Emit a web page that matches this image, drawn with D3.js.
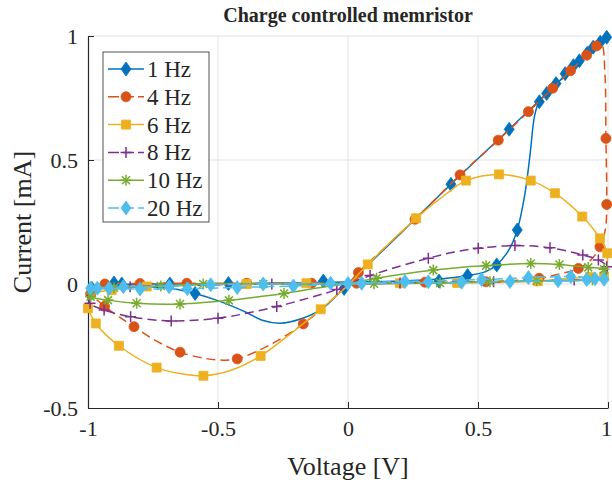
<!DOCTYPE html>
<html>
<head>
<meta charset="utf-8">
<script src="https://cdn.jsdelivr.net/npm/d3@7"></script>
<style>
body { margin: 0; background: #fff; }
svg { display: block; }
text { font-family: "Liberation Serif", "Times New Roman", serif; fill: #262626; }
</style>
</head>
<body>
<script>
// values, [voltage (V), current (mA)]
var names = ["1 Hz", "4 Hz", "6 Hz", "8 Hz", "10 Hz", "20 Hz"]
var xTicks = [-1, -0.5, 0, 0.5, 1]
var yTicks = [-0.5, 0, 0.5, 1]

var hz1Line = [[-1,-0.02],[-0.95,-0.01],[-0.88,-0.003],[-0.75,0],[-0.6,0],[-0.4,0.002],[-0.2,0.005],[0,0.008],[0.2,0.012],[0.35,0.02],[0.46,0.034],[0.53,0.05],[0.572,0.077],[0.62,0.14],[0.651,0.218],[0.68,0.36],[0.70,0.52],[0.718,0.68],[0.736,0.735],[0.8,0.805],[0.9,0.91],[0.96,0.967],[1,1],
  [0.96,0.962],[0.85,0.855],[0.62,0.624],[0.396,0.402],[0.2,0.202],[0,0],[-0.1,-0.1],[-0.18,-0.14],[-0.26,-0.158],[-0.33,-0.146],[-0.39,-0.115],[-0.49,-0.071],[-0.588,-0.038],[-0.68,-0.018],[-0.8,-0.01],[-0.92,-0.012],[-1,-0.02]]
var hz1Marks = [[-0.985,-0.018],[-0.9,0.004],[-0.87,0],[-0.685,0],[-0.46,0.002],[-0.095,0.012],[0.35,0.012],[0.46,0.034],[0.572,0.077],[0.651,0.218],[0.736,0.735],[0.764,0.768],[0.80,0.808],[0.835,0.848],[0.867,0.88],[0.89,0.9],[0.92,0.93],[0.943,0.955],[0.97,0.975],[0.995,0.995],[0.62,0.624],[0.396,0.402],[-0.015,-0.018],[-0.588,-0.038]]

var hz4Line = [[-1,-0.02],[-0.99,-0.04],[-0.936,-0.09],[-0.88,-0.133],[-0.823,-0.172],[-0.74,-0.228],[-0.646,-0.275],[-0.55,-0.3],[-0.48,-0.307],[-0.426,-0.302],[-0.3,-0.245],[-0.172,-0.161],[-0.08,-0.08],[0,0],[0.04,0.046],[0.258,0.261],[0.431,0.44],[0.578,0.58],[0.694,0.695],[0.787,0.789],[0.856,0.86],[0.918,0.923],[0.956,0.96],[0.975,0.965],[0.988,0.85],[0.992,0.587],[0.995,0.321],[0.99,0.22],[0.969,0.15],[0.935,0.098],[0.886,0.063],[0.8,0.037],[0.735,0.023],[0.53,0.009],[0.296,0.007],[0.033,0.003],[-0.14,0.003],[-0.39,0.003],[-0.62,0.003],[-0.8,0.002],[-0.935,0],[-1,-0.02]]
var hz4Marks = [[-0.99,-0.04],[-0.936,-0.09],[-0.823,-0.172],[-0.646,-0.275],[-0.426,-0.302],[-0.172,-0.161],[0.04,0.046],[0.258,0.261],[0.431,0.44],[0.578,0.58],[0.694,0.695],[0.787,0.789],[0.856,0.86],[0.918,0.923],[0.956,0.96],[0.992,0.587],[0.995,0.321],[0.969,0.15],[0.886,0.063],[0.735,0.023],[0.53,0.009],[0.296,0.007],[0.033,0.003],[-0.14,0.003],[-0.39,0.003],[-0.62,0.003],[-0.8,0.002],[-0.935,0]]

var hz6Line = [[-1,-0.098],[-0.97,-0.159],[-0.881,-0.249],[-0.736,-0.337],[-0.64,-0.362],[-0.556,-0.37],[-0.45,-0.348],[-0.336,-0.29],[-0.22,-0.2],[-0.105,-0.102],[0,-0.005],[0.076,0.079],[0.262,0.265],[0.38,0.365],[0.454,0.417],[0.581,0.442],[0.703,0.417],[0.796,0.366],[0.901,0.272],[0.969,0.184],[0.997,0.124],[0.995,0.07],[0.985,0.03],[0.93,0.028],[0.8,0.018],[0.73,0.011],[0.42,0.004],[0.2,0.003],[0,0],[-0.16,0.003],[-0.39,0],[-0.6,-0.005],[-0.774,-0.01],[-0.909,-0.024],[-0.975,-0.04],[-1,-0.098]]
var hz6Marks = [[-1,-0.098],[-0.97,-0.159],[-0.881,-0.249],[-0.736,-0.337],[-0.556,-0.37],[-0.336,-0.29],[-0.105,-0.102],[0.076,0.079],[0.262,0.265],[0.454,0.417],[0.581,0.442],[0.703,0.417],[0.796,0.366],[0.901,0.272],[0.969,0.184],[0.997,0.124],[0.985,0.03],[0.93,0.028],[0.73,0.011],[0.42,0.004],[0.2,0.003],[-0.16,0.003],[-0.39,0],[-0.774,-0.01],[-0.909,-0.024]]

var hz8Line = [[-1,-0.04],[-0.992,-0.078],[-0.938,-0.105],[-0.836,-0.132],[-0.68,-0.149],[-0.5,-0.138],[-0.4,-0.12],[-0.274,-0.091],[-0.15,-0.056],[-0.043,-0.022],[0.085,0.034],[0.2,0.072],[0.309,0.104],[0.4,0.127],[0.501,0.144],[0.642,0.155],[0.777,0.146],[0.903,0.117],[0.963,0.097],[0.995,0.07],[0.99,0.035],[0.93,0.018],[0.8,0.014],[0.5,0.008],[0.2,0.004],[0,0],[-0.293,0],[-0.6,-0.005],[-0.838,-0.011],[-0.96,-0.02],[-1,-0.04]]
var hz8Marks = [[-0.992,-0.078],[-0.938,-0.105],[-0.836,-0.132],[-0.68,-0.149],[-0.5,-0.138],[-0.274,-0.091],[-0.043,-0.022],[0.085,0.034],[0.309,0.104],[0.501,0.144],[0.642,0.155],[0.777,0.146],[0.903,0.117],[0.963,0.097],[0.995,0.07],[0.87,0.016],[0.56,0.009],[0.2,0.004],[-0.293,0],[-0.838,-0.011]]

var hz10Line = [[-1,-0.035],[-0.99,-0.051],[-0.923,-0.065],[-0.813,-0.078],[-0.646,-0.081],[-0.458,-0.066],[-0.35,-0.052],[-0.246,-0.038],[-0.1,-0.013],[0,0.002],[0.11,0.023],[0.2,0.038],[0.328,0.056],[0.43,0.067],[0.531,0.074],[0.703,0.083],[0.813,0.079],[0.924,0.067],[0.985,0.059],[0.99,0.03],[0.94,0.017],[0.726,0.013],[0.546,0.009],[0.354,0.004],[0.1,0.001],[-0.1,0],[-0.326,0],[-0.557,0],[-0.72,-0.008],[-0.9,-0.015],[-0.97,-0.022],[-1,-0.035]]
var hz10Marks = [[-0.99,-0.051],[-0.923,-0.065],[-0.813,-0.078],[-0.646,-0.081],[-0.458,-0.066],[-0.246,-0.038],[0.11,0.023],[0.328,0.056],[0.531,0.074],[0.703,0.083],[0.813,0.079],[0.924,0.067],[0.985,0.059],[0.94,0.017],[0.726,0.013],[0.546,0.009],[0.354,0.004],[0.1,0.001],[-0.326,0],[-0.557,0],[-0.72,-0.008],[-0.9,-0.015]]

var hz20Line = [[-1,-0.018],[-0.864,-0.011],[-0.688,-0.008],[-0.528,-0.003],[-0.326,0],[-0.067,0.002],[0.226,0.011],[0.52,0.018],[0.694,0.025],[0.86,0.03],[0.95,0.025],[1,0.02],[0.985,0.019],[0.918,0.017],[0.803,0.012],[0.623,0.01],[0.437,0.006],[0.2,0.003],[0,0],[-0.21,-0.008],[-0.426,-0.014],[-0.618,-0.019],[-0.8,-0.02],[-0.919,-0.018],[-0.99,-0.018],[-1,-0.018]]
var hz20Marks = [[-0.99,-0.017],[-0.964,-0.017],[-0.919,-0.017],[-0.864,-0.011],[-0.8,-0.02],[-0.688,-0.011],[-0.618,-0.019],[-0.528,-0.003],[-0.426,-0.014],[-0.326,0],[-0.21,-0.008],[-0.067,0.003],[0,0.002],[0.053,0.003],[0.219,0.01],[0.309,0.009],[0.437,0.007],[0.514,0.018],[0.623,0.01],[0.694,0.026],[0.808,0.013],[0.857,0.03],[0.918,0.018],[0.95,0.021],[0.985,0.019]]

var lines = [hz1Line, hz4Line, hz6Line, hz8Line, hz10Line, hz20Line]
var marks = [hz1Marks, hz4Marks, hz6Marks, hz8Marks, hz10Marks, hz20Marks]

// matlab default colour order and the line/marker styles
var colors = ["#0072BD", "#D95319", "#EDB120", "#7E2F8E", "#77AC30", "#4DBEEE"]
var dashes = [null, "9,5", null, "9,5", null, "9,5"]
var symbols = ["diamond", "circle", "square", "plus", "asterisk", "diamond"]

var width = 612, height = 485
var plotLeft = 88, plotRight = 608, plotTop = 36, plotBottom = 408

var svg = d3.select("body").append("svg")
    .attr("width", width)
    .attr("height", height)

var x = d3.scaleLinear().domain([-1, 1]).range([plotLeft, plotRight])
var y = d3.scaleLinear().domain([-0.5, 1]).range([plotBottom, plotTop])

// grid
var grid = svg.append("g")
grid.selectAll("line.gx")
    .data(xTicks.filter(d => d > -1))
    .enter().append("line")
    .attr("x1", d => x(d)).attr("x2", d => x(d))
    .attr("y1", plotTop).attr("y2", plotBottom)
    .attr("stroke", "#e3e3e3").attr("stroke-width", 1)
grid.selectAll("line.gy")
    .data(yTicks.filter(d => d > -0.5))
    .enter().append("line")
    .attr("x1", plotLeft).attr("x2", plotRight)
    .attr("y1", d => y(d)).attr("y2", d => y(d))
    .attr("stroke", "#e3e3e3").attr("stroke-width", 1)

// axes (left and bottom only, ticks inside)
var xAxis = svg.append("g")
    .attr("transform", "translate(0," + plotBottom + ")")
    .call(d3.axisBottom(x).tickValues(xTicks).tickSizeInner(-6).tickSizeOuter(0).tickPadding(12).tickFormat(d => String(d)))
var yAxis = svg.append("g")
    .attr("transform", "translate(" + plotLeft + ",0)")
    .call(d3.axisLeft(y).tickValues(yTicks).tickSizeInner(-6).tickSizeOuter(0).tickPadding(10).tickFormat(d => String(d)))

;[xAxis, yAxis].forEach(a => {
    a.select(".domain").attr("stroke", "#262626").attr("stroke-width", 1.2)
    a.selectAll(".tick line").attr("stroke", "#262626").attr("stroke-width", 1)
    a.selectAll(".tick text").attr("font-size", 22).attr("fill", "#262626")
        .style("font-family", '"Liberation Serif", serif')
})
xAxis.selectAll(".tick text").attr("dy", "0.72em")
    .attr("dx", d => d == 1 ? -2 : 0)

function symbolPath(s){
    if(s == "diamond") return "M0,-7L5,0L0,7L-5,0Z"
    if(s == "circle") return "M5,0A5,5 0 1,1 -5,0A5,5 0 1,1 5,0Z"
    if(s == "square") return "M-4.5,-4.5h9v9h-9Z"
    if(s == "plus") return "M-5.5,0H5.5M0,-5.5V5.5"
    return "M-5.5,0H5.5M0,-5.5V5.5M-4,-4L4,4M-4,4L4,-4"
}
function filled(s){ return s == "diamond" || s == "circle" || s == "square" }

var line = d3.line()
    .x(d => x(d[0]))
    .y(d => y(d[1]))
    .curve(d3.curveCatmullRom.alpha(0.5))

var series = svg.append("g")

lines.forEach((pts, i) => {
    var g = series.append("g")
    g.append("path")
        .attr("d", line(pts))
        .attr("fill", "none")
        .attr("stroke", colors[i])
        .attr("stroke-width", 1.5)
        .attr("stroke-dasharray", dashes[i])

    g.selectAll("path.mk")
        .data(marks[i])
        .enter().append("path")
        .attr("class", "mk")
        .attr("transform", d => "translate(" + x(d[0]) + "," + y(d[1]) + ")")
        .attr("d", symbolPath(symbols[i]))
        .attr("fill", filled(symbols[i]) ? colors[i] : "none")
        .attr("stroke", colors[i])
        .attr("stroke-width", filled(symbols[i]) ? 0.8 : 1.5)
})

// title and labels
svg.append("text")
    .attr("x", (plotLeft + plotRight) / 2).attr("y", 22)
    .attr("text-anchor", "middle")
    .attr("font-size", 20).attr("font-weight", "bold")
    .attr("fill", "#000")
    .text("Charge controlled memristor")

svg.append("text")
    .attr("x", (plotLeft + plotRight) / 2).attr("y", 475)
    .attr("text-anchor", "middle")
    .attr("font-size", 26)
    .text("Voltage [V]")

svg.append("text")
    .attr("transform", "translate(31," + (plotTop + plotBottom) / 2 + ") rotate(-90)")
    .attr("text-anchor", "middle")
    .attr("font-size", 26)
    .text("Current [mA]")

// legend
var legend = svg.append("g")
legend.append("rect")
    .attr("x", 103).attr("y", 52)
    .attr("width", 106).attr("height", 170)
    .attr("fill", "#fff")
    .attr("stroke", "#262626").attr("stroke-width", 0.8)

var rows = legend.selectAll("g.row")
    .data(names)
    .enter().append("g")
    .attr("class", "row")
    .attr("transform", (d, i) => "translate(0," + (69 + i * 27.8) + ")")

rows.append("line")
    .attr("x1", 108).attr("x2", 144)
    .attr("stroke", (d, i) => colors[i])
    .attr("stroke-width", 1.5)
    .attr("stroke-dasharray", (d, i) => dashes[i] ? "11,4" : null)
rows.append("path")
    .attr("transform", "translate(126,0)")
    .attr("d", (d, i) => symbolPath(symbols[i]))
    .attr("fill", (d, i) => filled(symbols[i]) ? colors[i] : "none")
    .attr("stroke", (d, i) => colors[i])
    .attr("stroke-width", (d, i) => filled(symbols[i]) ? 0.8 : 1.5)
rows.append("text")
    .attr("x", 147).attr("dy", "0.35em")
    .attr("font-size", 23)
    .attr("fill", "#000")
    .text(d => d)
</script>
</body>
</html>
